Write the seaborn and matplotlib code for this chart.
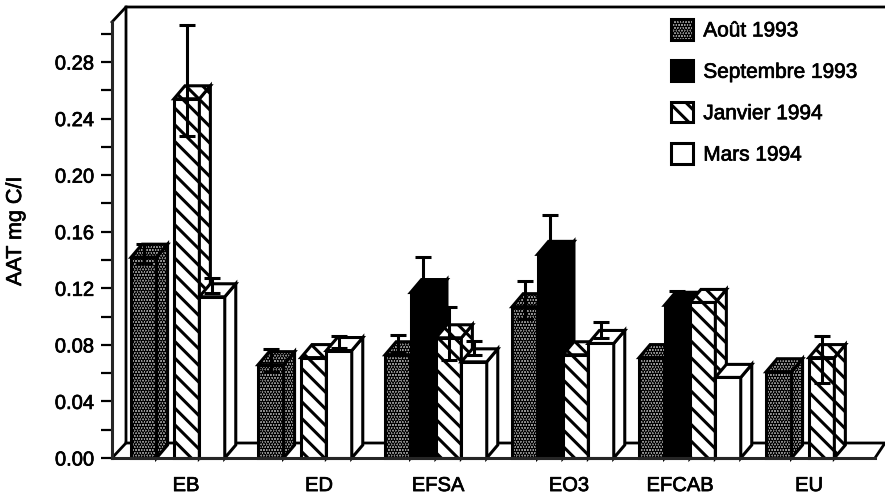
import pandas as pd
import seaborn as sns
import matplotlib.pyplot as plt
import matplotlib.patheffects as pe
from matplotlib.patches import Patch, Polygon

sites = ["EB", "ED", "EFSA", "EO3", "EFCAB", "EU"]
months = ["Août 1993", "Septembre 1993", "Janvier 1994", "Mars 1994"]
nan = float("nan")

aout = [0.142, 0.066, 0.073, 0.107, 0.071, 0.061]
septembre = [nan, nan, 0.117, 0.144, 0.108, nan]
janvier = [0.254, 0.071, 0.085, 0.073, 0.110, 0.071]
mars = [0.114, 0.076, 0.068, 0.081, 0.057, nan]

# top and bottom of the error bars, nan = no bar visible
aout_hi = [0.151, 0.077, 0.087, 0.125, nan, nan]
aout_lo = [0.138, 0.061, 0.074, 0.098, nan, nan]
sept_hi = [nan, nan, 0.142, 0.172, 0.118, nan]
sept_lo = [nan, nan, 0.100, 0.125, 0.100, nan]
janv_hi = [0.306, nan, 0.107, nan, nan, 0.086]
janv_lo = [0.228, nan, 0.069, nan, nan, 0.053]
mars_hi = [0.127, 0.086, 0.083, 0.096, nan, nan]
mars_lo = [0.117, 0.078, 0.073, 0.085, nan, nan]

series = [aout, septembre, janvier, mars]
err_hi = [aout_hi, sept_hi, janv_hi, mars_hi]
err_lo = [aout_lo, sept_lo, janv_lo, mars_lo]

# bar styles per month
face = ["#a8a8a8", "black", "white", "white"]
hatch = ["......", None, "\\\\", None]

rows = []
for m, vals in zip(months, series):
    for s, v in zip(sites, vals):
        rows.append({"site": s, "month": m, "aat": v})
df = pd.DataFrame(rows)

sns.set_style("ticks")
plt.rcParams["font.family"] = ["Liberation Sans", "DejaVu Sans"]
plt.rcParams["hatch.linewidth"] = 2.2

W, H = 885, 495
fig = plt.figure(figsize=(W / 100, H / 100), dpi=100)
ax = fig.add_axes([112 / W, (H - 458) / H, (875 - 112) / W, (458 - 22) / H])

sns.barplot(data=df, x="site", y="aat", hue="month", order=sites, hue_order=months,
            errorbar=None, width=0.8, legend=False, ax=ax)

ax.set_xlim(-0.551, 5.457)
ax.set_ylim(0, 0.3083)
px_x = (ax.get_xlim()[1] - ax.get_xlim()[0]) / (875 - 112)
px_y = ax.get_ylim()[1] / (458 - 22)
dx, dy = 11 * px_x, 13 * px_y  # bar depth

# turn the flat bars into boxes, left to right so each one covers the side of the previous
bars = sorted([p for p in ax.patches if p.get_height() > 0], key=lambda p: p.get_x())
for n, p in enumerate(bars):
    w = p.get_width()
    centre = p.get_x() + w / 2
    cat = round(centre)
    hue = int((centre - cat + 0.4) // 0.2)
    # groups without Septembre close up the gap a bit
    if hue > 1 and pd.isna(septembre[cat]):
        p.set_x(p.get_x() - 8 * px_x)
    x0, x1, h = p.get_x(), p.get_x() + w, p.get_height()
    z = 3 + n * 0.01
    style = dict(facecolor=face[hue], edgecolor="black", hatch=hatch[hue], linewidth=2.2,
                 clip_on=False, zorder=z, joinstyle="miter")
    p.set(**style)
    ax.add_patch(Polygon([(x1, 0), (x1 + dx, dy), (x1 + dx, h + dy), (x1, h)], **style))
    ax.add_patch(Polygon([(x0, h), (x0 + dx, h + dy), (x1 + dx, h + dy), (x1, h)], **style))
    lo, hi = err_lo[hue][cat], err_hi[hue][cat]
    if not pd.isna(hi):
        xc = (x0 + x1) / 2
        ax.errorbar([xc], [(hi + lo) / 2], yerr=[(hi - lo) / 2], color="black", lw=2.2, capsize=6,
                    capthick=2.2, clip_on=False, zorder=20)

# back wall and floor of the box
x_l, x_r = ax.get_xlim()
y_t = ax.get_ylim()[1]
wall_x, wall_y = 14 * px_x, 15 * px_y
frame = dict(color="black", lw=2, clip_on=False, zorder=1, solid_capstyle="projecting")
ax.plot([x_l, x_l + wall_x, x_l + wall_x], [0, wall_y, y_t + wall_y], **frame)
ax.plot([x_l, x_l + wall_x, x_r + 10 * px_x], [y_t, y_t + wall_y, y_t + wall_y], **frame)
ax.plot([x_l + wall_x, x_r + 10 * px_x, x_r], [wall_y, wall_y, 0], **frame)

ax.set_yticks([0.04 * i for i in range(8)])
ax.set_yticklabels(["%.2f" % (0.04 * i) for i in range(8)])
ax.set_yticks([0.02 + 0.04 * i for i in range(8)], minor=True)
ax.tick_params(axis="y", which="both", length=8, width=1.6, color="black", labelsize=14.5, pad=5)
# the labels are not quite centred under their groups in the original
label_nudge = [4, 10, 2, 6, -10, -8]
ax.set_xticks([i + label_nudge[i] * px_x for i in range(6)])
ax.set_xticklabels(sites)
ax.tick_params(axis="x", length=0, labelsize=14.5, pad=13)
ax.set_xlabel("")
ax.set_ylabel("AAT mg C/I", fontsize=15.5)
ax.yaxis.set_label_coords(-86 / (875 - 112), 0.52)
sns.despine(ax=ax)
for side in ["left", "bottom"]:
    ax.spines[side].set_linewidth(2.2)
    ax.spines[side].set_zorder(10)

handles = [Patch(facecolor=f, edgecolor="black", hatch=h, linewidth=2.2) for f, h in zip(face, hatch)]
leg = ax.legend(handles, months, loc="upper left", bbox_to_anchor=(671 / W, (H - 19) / H),
                bbox_transform=fig.transFigure, frameon=False, fontsize=15, borderpad=0, borderaxespad=0,
                handlelength=1.05, handleheight=1.15, handletextpad=0.5, labelspacing=0.96)

# the scan makes all the lettering look heavier
thick = [pe.withStroke(linewidth=0.5, foreground="black")]
for t in ax.get_xticklabels() + ax.get_yticklabels() + leg.get_texts() + [ax.yaxis.label]:
    t.set_color("black")
    t.set_path_effects(thick)

fig.savefig("out.png", dpi=100)
